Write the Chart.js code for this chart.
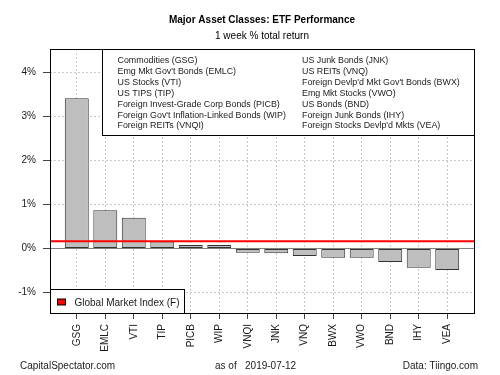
<!DOCTYPE html>
<html>
<head>
<meta charset="utf-8">
<script src="https://cdn.jsdelivr.net/npm/chart.js@4"></script>
<style>
  body { margin: 0; background: #fff; }
  #wrap { width: 500px; height: 375px; }
</style>
</head>
<body>
<div id="wrap"><canvas id="myChart"></canvas></div>
<script>
const tickers = ["GSG", "EMLC", "VTI", "TIP", "PICB", "WIP", "VNQI", "JNK", "VNQ", "BWX", "VWO", "BND", "IHY", "VEA"];
const returns = [3.42, 0.87, 0.70, 0.16, 0.08, 0.08, -0.10, -0.11, -0.17, -0.21, -0.21, -0.31, -0.44, -0.49];
const gmiReturn = 0.165;
const yTicks = [-1, 0, 1, 2, 3, 4];
const legendLeft = [
  "Commodities (GSG)", "Emg Mkt Gov't Bonds (EMLC)", "US Stocks (VTI)", "US TIPS (TIP)",
  "Foreign Invest-Grade Corp Bonds (PICB)", "Foreign Gov't Inflation-Linked Bonds (WIP)", "Foreign REITs (VNQI)"
];
const legendRight = [
  "US Junk Bonds (JNK)", "US REITs (VNQ)", "Foreign Devlp'd Mkt Gov't Bonds (BWX)", "Emg Mkt Stocks (VWO)",
  "US Bonds (BND)", "Foreign Junk Bonds (IHY)", "Foreign Stocks Devlp'd Mkts (VEA)"
];
const titleText = "Major Asset Classes: ETF Performance";
const subtitleText = "1 week % total return";
const gmiLabel = "Global Market Index (F)";

const FONT = '"Liberation Sans", Arial, sans-serif';

// R-style extras: zero line, red GMI line, box, legends, titles
const extras = {
  id: 'extras',
  beforeDatasetsDraw(chart) {
    const {ctx, chartArea: a, scales: {y}} = chart;
    const y0 = Math.round(y.getPixelForValue(0)) + 0.5;
    ctx.save();
    ctx.strokeStyle = '#808080';
    ctx.lineWidth = 1;
    ctx.beginPath();
    ctx.moveTo(a.left, y0);
    ctx.lineTo(a.right, y0);
    ctx.stroke();
    ctx.restore();
  },
  afterDatasetsDraw(chart) {
    const {ctx, chartArea: a, scales: {y}} = chart;
    ctx.save();
    // GMI line
    const yg = y.getPixelForValue(gmiReturn);
    ctx.strokeStyle = '#ff0000';
    ctx.lineWidth = 2;
    ctx.beginPath();
    ctx.moveTo(a.left, yg);
    ctx.lineTo(a.right, yg);
    ctx.stroke();

    // top legend box
    ctx.lineWidth = 1;
    ctx.strokeStyle = '#000';
    const bx = a.left + 52, by = a.top, bw = a.right - bx, bh = 86;
    ctx.fillStyle = '#fff';
    ctx.fillRect(bx, by, bw, bh);
    ctx.strokeRect(bx + 0.5, by + 0.5, bw, bh);
    ctx.fillStyle = '#1a1a1a';
    ctx.font = '8.9px ' + FONT;
    ctx.textBaseline = 'middle';
    ctx.textAlign = 'left';
    legendLeft.forEach((t, i) => ctx.fillText(t, bx + 15.5, by + 12 + i * 10.83));
    legendRight.forEach((t, i) => ctx.fillText(t, bx + 200, by + 12 + i * 10.83));

    // bottom legend box
    const lx = a.left, lh = 24, ly = a.bottom - lh, lw = 134;
    ctx.fillStyle = '#fff';
    ctx.fillRect(lx, ly, lw, lh);
    ctx.strokeRect(lx + 0.5, ly + 0.5, lw, lh);
    ctx.fillStyle = '#ff0000';
    ctx.fillRect(lx + 7.5, ly + 10, 8, 6);
    ctx.strokeRect(lx + 7.5, ly + 10, 8, 6);
    ctx.fillStyle = '#1a1a1a';
    ctx.font = '10px ' + FONT;
    ctx.fillText(gmiLabel, lx + 24.5, ly + 14);

    // plot frame
    ctx.strokeStyle = '#000';
    ctx.strokeRect(Math.round(a.left) + 0.5, Math.round(a.top) + 0.5, a.right - a.left, a.bottom - a.top);
    ctx.restore();
  },
  afterDraw(chart) {
    const {ctx, chartArea: a} = chart;
    const cx = (a.left + a.right) / 2;
    ctx.save();
    ctx.fillStyle = '#000';
    ctx.textBaseline = 'middle';
    ctx.textAlign = 'center';
    ctx.font = 'bold 10px ' + FONT;
    ctx.fillText(titleText, cx, 20);
    ctx.font = '10px ' + FONT;
    ctx.fillText(subtitleText, cx, 36.5);
    ctx.fillStyle = '#1a1a1a';
    ctx.textAlign = 'left';
    ctx.fillText('CapitalSpectator.com', 20, 366.5);
    ctx.fillText('as of   2019-07-12', 215, 366.5);
    ctx.textAlign = 'right';
    ctx.fillText('Data: Tiingo.com', 478, 366.5);
    ctx.restore();
  }
};

new Chart('myChart', {
  type: 'bar',
  data: {
    datasets: [{
      data: returns.map((v, i) => ({x: i, y: v})),
      backgroundColor: '#bebebe',
      borderColor: '#333',
      borderWidth: 1,
      borderSkipped: false,
      categoryPercentage: 1,
      barPercentage: 0.84
    }]
  },
  options: {
    responsive: true,
    maintainAspectRatio: false,
    animation: false,
    layout: {padding: {top: 49, right: 26, bottom: 0, left: 0}},
    plugins: {
      legend: {display: false},
      tooltip: {enabled: false}
    },
    scales: {
      x: {
        type: 'linear',
        offset: false,
        min: -0.94,
        max: tickers.length - 1 + 0.94,
        afterBuildTicks: s => { s.ticks = tickers.map((_, i) => ({value: i})); },
        afterFit: s => { s.height = 62; },
        border: {display: false, dash: [2, 2]},
        grid: {offset: false, color: '#c8c8c8', tickColor: '#444', tickLength: 6, lineWidth: 1},
        ticks: {
          callback: v => tickers[v],
          minRotation: 90,
          maxRotation: 90,
          padding: 5,
          color: '#1a1a1a',
          font: {family: FONT, size: 10}
        }
      },
      y: {
        min: -1.47,
        max: 4.54,
        afterBuildTicks: s => { s.ticks = yTicks.map(v => ({value: v})); },
        afterFit: s => { s.width = 50; },
        border: {display: false, dash: [2, 2]},
        grid: {color: '#c8c8c8', tickColor: '#444', tickLength: 7, lineWidth: 1},
        ticks: {
          callback: v => v + '%',
          padding: 7,
          color: '#1a1a1a',
          font: {family: FONT, size: 10}
        }
      }
    }
  },
  plugins: [extras]
});
</script>
</body>
</html>
